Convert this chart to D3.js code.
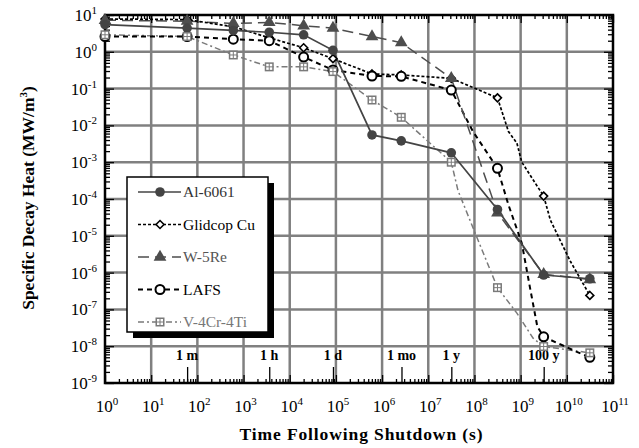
<!DOCTYPE html>
<html>
<head>
<meta charset="utf-8">
<script src="https://cdn.jsdelivr.net/npm/d3@7"></script>
<style>
  body { margin: 0; background: #fff; }
  svg { display: block; font-family: "Liberation Serif", "Times New Roman", serif; }
</style>
</head>
<body>
<div id="chart"></div>
<script>
// times with markers (s): 1 s, 1 m, 10 m, 1 h, ~6 h, 1 d, 1 wk, 1 mo, 1 y, 10 y, 100 y, 1000 y
const times = [1, 60, 600, 3600, 2e4, 86400, 6.05e5, 2.6e6, 3.15e7, 3.15e8, 3.15e9, 3.15e10];

const al6061 = [5.5, 4.4, 3.8, 3.4, 2.9, 1.1, 5.5e-3, 3.8e-3, 1.8e-3, 5.2e-5, 8.6e-7, 6.8e-7];
const glidcop = [7.8, 7.5, 4.8, 2.4, 1.29, 0.65, 0.25, 0.235, 0.19, 0.056, 1.2e-4, 2.4e-7];
const w5re = [7.2, 6.8, 5.9, 6.3, 5.1, 4.4, 2.6, 1.77, 0.19, 4.2e-5, 9e-7, 6.5e-7];
const lafs = [2.6, 2.6, 2.2, 2.0, 0.72, 0.32, 0.22, 0.215, 0.091, 6.8e-4, 1.8e-8, 5e-9];
const v4cr4ti = [2.9, 2.6, 0.82, 0.39, 0.39, 0.29, 0.049, 0.0166, 1.0e-3, 3.9e-7, 9.8e-9, 6.6e-9];

// extra unmarked vertices of the curves [time, value]
const glidcopBends = [[5.45e8, 6.8e-3], [8.3e8, 3.3e-3], [1.06e9, 1.0e-3], [2.0e9, 2.9e-4], [4.4e9, 2.7e-5], [1.2e10, 2e-6]];
const lafsBends = [[9.3e7, 6.8e-3], [5.45e8, 6.9e-5], [1.06e9, 6.3e-6], [1.6e9, 3.8e-7], [2.3e9, 3.4e-8], [9.2e9, 9.8e-9], [1.65e10, 7e-9]];
const vBends = [[4.4e7, 1.7e-4], [1.03e8, 1.2e-5], [8.3e8, 7.9e-8], [1.86e9, 1.65e-8]];

const yDecades = d3.range(-9, 2).map((e) => Math.pow(10, e));
const xDecades = d3.range(0, 12).map((e) => Math.pow(10, e));

const timeMarks = [60, 3600, 86400, 2.63e6, 3.156e7, 3.156e9];
const timeNames = ["1 m", "1 h", "1 d", "1 mo", "1 y", "100 y"];

const w = 639;
const h = 448;
const svg = d3.select("#chart").append("svg").attr("width", w).attr("height", h);
svg.append("rect").attr("width", w).attr("height", h).attr("fill", "#fff");

const x = d3.scaleLog().domain([1, 1e11]).range([105, 613]);
const y = d3.scaleLog().domain([1e-9, 10]).range([383, 15]);
const [x0, x1] = x.range();
const [y0, y1] = y.range();

const minorOf = (decs) => {
  const out = [];
  decs.slice(0, -1).forEach((d) => {
    for (let k = 2; k <= 9; k++) out.push(k * d);
  });
  return out;
};

// grid
const grid = svg.append("g").attr("stroke", "#808080").attr("stroke-width", 2.5);
grid.selectAll(".gx").data(xDecades.slice(1, -1)).enter().append("line")
  .attr("x1", (d) => x(d)).attr("x2", (d) => x(d)).attr("y1", y1).attr("y2", y0);
grid.selectAll(".gy").data(yDecades.slice(1, -1)).enter().append("line")
  .attr("y1", (d) => y(d)).attr("y2", (d) => y(d)).attr("x1", x0).attr("x2", x1);

// ticks on all four sides, pointing inward
const tickAxis = (axisFn, scale, values, size, transform) => {
  svg.append("g")
    .attr("transform", transform)
    .call(axisFn(scale).tickValues(values).tickSize(size).tickFormat(""))
    .call((g) => g.select(".domain").remove())
    .call((g) => g.selectAll("line").attr("stroke", "#000").attr("stroke-width", 1.3));
};
tickAxis(d3.axisLeft, y, minorOf(yDecades), -5, `translate(${x0},0)`);
tickAxis(d3.axisLeft, y, yDecades, -9, `translate(${x0},0)`);
tickAxis(d3.axisRight, y, minorOf(yDecades), -5, `translate(${x1},0)`);
tickAxis(d3.axisRight, y, yDecades, -9, `translate(${x1},0)`);
tickAxis(d3.axisBottom, x, minorOf(xDecades), -4, `translate(0,${y0})`);
tickAxis(d3.axisBottom, x, xDecades, -8, `translate(0,${y0})`);
tickAxis(d3.axisTop, x, minorOf(xDecades), -4, `translate(0,${y1})`);
tickAxis(d3.axisTop, x, xDecades, -8, `translate(0,${y1})`);
tickAxis(d3.axisBottom, x, timeMarks, -16, `translate(0,${y0})`);

// frame
svg.append("rect")
  .attr("x", x0).attr("y", y1).attr("width", x1 - x0).attr("height", y0 - y1)
  .attr("fill", "none").attr("stroke", "#000").attr("stroke-width", 2.5);

// time labels
svg.append("g").selectAll("text").data(timeMarks).enter().append("text")
  .attr("x", (d) => x(d)).attr("y", 360)
  .attr("text-anchor", "middle").attr("font-size", 14).attr("font-weight", "bold")
  .text((d, i) => timeNames[i]);

// tick labels
const pow10 = (sel, e) => {
  sel.append("tspan").text("10");
  sel.append("tspan").attr("dy", -7).attr("font-size", 11).text(e);
};
svg.append("g").selectAll("text").data(yDecades).enter().append("text")
  .attr("x", 97).attr("y", (d) => y(d) + 6)
  .attr("text-anchor", "end").attr("font-size", 17)
  .each(function (d) { pow10(d3.select(this), Math.round(Math.log10(d))); });
svg.append("g").selectAll("text").data(xDecades).enter().append("text")
  .attr("x", (d) => x(d) + 2).attr("y", 412)
  .attr("text-anchor", "middle").attr("font-size", 17)
  .each(function (d) { pow10(d3.select(this), Math.round(Math.log10(d))); });

// axis titles
svg.append("text").attr("x", 361).attr("y", 440).attr("text-anchor", "middle")
  .attr("font-size", 17.5).attr("font-weight", "bold")
  .attr("textLength", 243).attr("lengthAdjust", "spacing")
  .text("Time Following Shutdown (s)");
const yt = svg.append("text").attr("transform", "translate(34,198) rotate(-90)")
  .attr("text-anchor", "middle").attr("font-size", 17.5).attr("font-weight", "bold");
yt.append("tspan").text("Specific Decay Heat (MW/m");
yt.append("tspan").attr("dy", -7).attr("font-size", 11).text("3");
yt.append("tspan").attr("dy", 7).text(")");

// series
const series = [
  { name: "Al-6061", vals: al6061, bends: [], color: "#444", text: "#333", dash: null, width: 1.7, marker: "dot" },
  { name: "Glidcop Cu", vals: glidcop, bends: glidcopBends, color: "#000", text: "#000", dash: "3,2", width: 1.7, marker: "diamond" },
  { name: "W-5Re", vals: w5re, bends: [], color: "#4d4d4d", text: "#555", dash: "11,6", width: 1.5, marker: "triangle" },
  { name: "LAFS", vals: lafs, bends: lafsBends, color: "#000", text: "#000", dash: "5,4", width: 2, marker: "circle" },
  { name: "V-4Cr-4Ti", vals: v4cr4ti, bends: vBends, color: "#7a7a7a", text: "#777", dash: "6,3,2,3", width: 1.5, marker: "square" },
];

const line = d3.line().x((d) => x(d[0])).y((d) => y(d[1]));
const drawMarker = (g, s, cx, cy) => {
  if (s.marker === "dot") {
    g.append("circle").attr("cx", cx).attr("cy", cy).attr("r", 4.8).attr("fill", s.color);
  } else if (s.marker === "circle") {
    g.append("circle").attr("cx", cx).attr("cy", cy).attr("r", 4.5)
      .attr("fill", "#fff").attr("stroke", "#000").attr("stroke-width", 2);
  } else if (s.marker === "diamond") {
    g.append("path").attr("d", d3.symbol(d3.symbolDiamond2, 40)())
      .attr("transform", `translate(${cx},${cy})`)
      .attr("fill", "#fff").attr("stroke", "#000").attr("stroke-width", 1.6);
  } else if (s.marker === "triangle") {
    g.append("path").attr("d", d3.symbol(d3.symbolTriangle, 70)())
      .attr("transform", `translate(${cx},${cy})`).attr("fill", s.color);
  } else {
    g.append("rect").attr("x", cx - 4.5).attr("y", cy - 4.5).attr("width", 9).attr("height", 9)
      .attr("fill", s.color);
    [[-3, -3], [0.5, -3], [-3, 0.5], [0.5, 0.5]].forEach(([dx, dy]) => {
      g.append("rect").attr("x", cx + dx).attr("y", cy + dy).attr("width", 2.5).attr("height", 2.5)
        .attr("fill", "#fff");
    });
  }
};

const lines = svg.append("g").attr("fill", "none");
series.slice().reverse().forEach((s) => {
  const pts = times.map((t, i) => [t, s.vals[i]]).concat(s.bends).sort((a, b) => a[0] - b[0]);
  lines.append("path").attr("d", line(pts))
    .attr("stroke", s.color).attr("stroke-width", s.width)
    .attr("stroke-dasharray", s.dash);
});

const markerOrder = ["Glidcop Cu", "LAFS", "W-5Re", "Al-6061", "V-4Cr-4Ti"];
const marks = svg.append("g");
markerOrder.forEach((n) => {
  const s = series.find((d) => d.name === n);
  times.forEach((t, i) => drawMarker(marks, s, x(t), y(s.vals[i])));
});

// legend
const lg = svg.append("g");
lg.append("rect").attr("x", 133).attr("y", 183).attr("width", 141).attr("height", 155).attr("fill", "#000");
lg.append("rect").attr("x", 127).attr("y", 177).attr("width", 141).attr("height", 155)
  .attr("fill", "#fff").attr("stroke", "#000").attr("stroke-width", 1.5);
series.forEach((s, i) => {
  const ly = 192 + i * 32.5;
  lg.append("line").attr("x1", 138).attr("x2", 181).attr("y1", ly).attr("y2", ly)
    .attr("stroke", s.color).attr("stroke-width", s.width).attr("stroke-dasharray", s.dash);
  drawMarker(lg, s, 160, ly);
  lg.append("text").attr("x", 183).attr("y", ly + 5).attr("font-size", 15.5)
    .attr("fill", s.text).text(s.name);
});
</script>
</body>
</html>
